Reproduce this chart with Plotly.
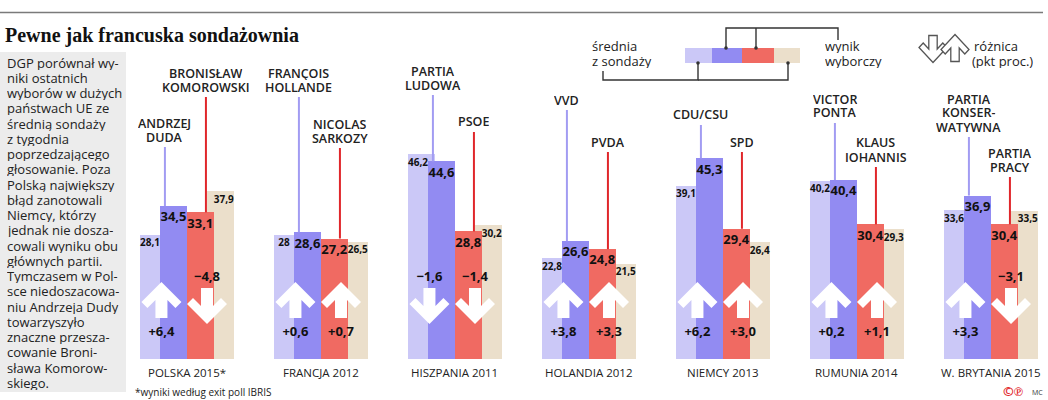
import plotly.graph_objects as go

# --- data -------------------------------------------------------------
countries = ["POLSKA 2015*", "FRANCJA 2012", "HISZPANIA 2011", "HOLANDIA 2012",
             "NIEMCY 2013", "RUMUNIA 2014", "W. BRYTANIA 2015"]
cand_a = ["ANDRZEJ<br>DUDA", "FRANÇOIS<br>HOLLANDE", "PARTIA<br>LUDOWA", "VVD",
          "CDU/CSU", "VICTOR<br>PONTA", "PARTIA<br>KONSER-<br>WATYWNA"]
cand_b = ["BRONISŁAW<br>KOMOROWSKI", "NICOLAS<br>SARKOZY", "PSOE", "PVDA",
          "SPD", "KLAUS<br>IOHANNIS", "PARTIA<br>PRACY"]
poll_a = [28.1, 28, 46.2, 22.8, 39.1, 40.2, 33.6]
result_a = [34.5, 28.6, 44.6, 26.6, 45.3, 40.4, 36.9]
result_b = [33.1, 27.2, 28.8, 24.8, 29.4, 30.4, 30.4]
poll_b = [37.9, 26.5, 30.2, 21.5, 26.4, 29.3, 33.5]
diff_a = [6.4, 0.6, -1.6, 3.8, 6.2, 0.2, 3.3]
diff_b = [-4.8, 0.7, -1.4, 3.3, 3.0, 1.1, -3.1]

# pixel heights where the name leader lines end (layout only)
label_top_a = [147, 97, 95, 110, 125, 123, 137]
label_top_b = [97, 148, 132, 152, 152, 167, 177]

intro = ["DGP porównał wy-", "niki ostatnich", "wyborów w dużych", "państwach UE ze",
         "średnią sondaży", "z tygodnia", "poprzedzającego", "głosowanie. Poza",
         "Polską największy", "błąd zanotowali", "Niemcy, którzy", "jednak nie dosza-",
         "cowali wyniku obu", "głównych partii.", "Tymczasem w Pol-", "sce niedoszacowa-",
         "niu Andrzeja Dudy", "towarzyszyło", "znaczne przesza-", "cowanie Broni-",
         "sława Komorow-", "skiego."]

# --- geometry ---------------------------------------------------------
W, H = 1048, 400
X0, U = 140, 26.8        # px of first group, px per x unit
BASE, K = 359, 4.43      # px of baseline, px per percentage point
STEP = 5                 # x units between groups

LIGHT, BLUE, RED, BEIGE = "#cbc8f7", "#928bf2", "#f06a62", "#ebdfcb"
FONT = "Open Sans"


def px(x):
    return x / W


def py(y):
    return 1 - y / H


def to_y(p):
    return (BASE - p) / K


def fmt(v, dec=True):
    s = f"{v:.1f}" if dec else f"{v:g}"
    return s.replace(".", ",")


def sdiff(v):
    return ("+" if v > 0 else "−") + fmt(abs(v))


starts = [STEP * i for i in range(len(countries))]

fig = go.Figure()


def bars(vals, off, width, color):
    fig.add_trace(go.Bar(x=[s + off for s in starts], y=vals, width=width,
                         marker=dict(color=color, line=dict(width=0)),
                         showlegend=False, hoverinfo="skip"))


bars(poll_a, 0.5, 1.0, LIGHT)
bars(poll_b, 3.0, 1.0, BEIGE)
bars(result_a, 1.25, 1.0, BLUE)
bars(result_b, 2.25, 1.0, RED)

# leader lines to candidate names
for vals, tops, off, col in [(result_a, label_top_a, 0.93, "#a29cf2"),
                             (result_b, label_top_b, 2.46, "#e0262a")]:
    xs, ys = [], []
    for s, v, t in zip(starts, vals, tops):
        xs += [s + off, s + off, None]
        ys += [v, to_y(t), None]
    fig.add_trace(go.Scatter(x=xs, y=ys, mode="lines", line=dict(color=col, width=2),
                             showlegend=False, hoverinfo="skip"))

# value labels
for vals, off, size, drop, dec in [(poll_a, 0.375, 10, 9, False), (poll_b, 3.125, 10, 9, False),
                                   (result_a, 1.25, 13, 12, True), (result_b, 2.25, 13, 12, True)]:
    fig.add_trace(go.Scatter(
        x=[s + off for s in starts], y=[v - drop / K for v in vals],
        mode="text", text=[fmt(v, dec) for v in vals],
        textfont=dict(family=FONT, size=size, color="#111", weight=700),
        cliponaxis=False, showlegend=False, hoverinfo="skip"))

# arrows
ARROW = [(0, 18), (20, -2), (14, -8), (6, 0), (6, -18), (-6, -18), (-6, 0),
         (-14, -8), (-20, -2), (0, 18)]


def arrow_pts(cx, cy, up, sx=1.0, sy=1.0):
    return [(cx + ax * sx, cy + (ay if up else -ay) * sy) for ax, ay in ARROW]


ax_, ay_ = [], []
for diffs, off in [(diff_a, 0.8), (diff_b, 2.5)]:
    tx, ty, tt = [], [], []
    for s, d in zip(starts, diffs):
        up = d > 0
        cy = to_y(300) if up else to_y(306)
        for x, y in arrow_pts(s + off, cy, up, 1 / U, 1 / K):
            ax_.append(x)
            ay_.append(y)
        ax_.append(None)
        ay_.append(None)
        tx.append(s + off)
        ty.append(to_y(333) if up else to_y(278))
        tt.append(sdiff(d))
    fig.add_trace(go.Scatter(x=tx, y=ty, mode="text", text=tt,
                             textfont=dict(family=FONT, size=13, color="#111", weight=700),
                             cliponaxis=False, showlegend=False, hoverinfo="skip"))
fig.add_trace(go.Scatter(x=ax_, y=ay_, mode="lines", fill="toself", fillcolor="white",
                         line=dict(width=0, color="white"), showlegend=False, hoverinfo="skip"))

annotations = []


def text(x, y, t, size=11, color="#222", weight=400, xanchor="left", family=FONT, height=None):
    ann = dict(x=x, y=y, xref="paper", yref="paper", text=t, showarrow=False,
               xanchor=xanchor, yanchor="middle",
               font=dict(family=family, size=size, color=color, weight=weight))
    if height:
        ann["height"] = height
    annotations.append(ann)


# candidate names, line by line above the leader lines
for names, tops, off in [(cand_a, label_top_a, 0.93), (cand_b, label_top_b, 2.46)]:
    for s, name, t in zip(starts, names, tops):
        lines = name.split("<br>")
        n = len(lines)
        for j, ln in enumerate(lines):
            ypx = t - 10 - 14 * (n - 1 - j)
            text(px(X0 + (s + off) * U), py(ypx), ln, size=12.5, weight=600,
                 xanchor="center", height=13)

# country names
for s, c in zip(starts, countries):
    text(px(X0 + (s + 1.75) * U), py(372), c, size=11.5, weight=500, xanchor="center")

# title and intro
text(px(3), py(35), "Pewne jak francuska sondażownia", size=20, color="#111", weight=700,
     family="Liberation Serif")
for i, ln in enumerate(intro):
    text(px(5), py(62 + 15.25 * i), ln, size=13, color="#222", height=15)

# legend texts
text(px(590), py(46), "średnia", size=13, height=14)
text(px(590), py(61), "z sondaży", size=13, height=14)
text(px(823), py(46), "wynik", size=13, height=14)
text(px(823), py(61), "wyborczy", size=13, height=14)
text(px(972), py(46), "różnica", size=13, height=14)
text(px(970), py(61), "(pkt proc.)", size=13, height=14)

# footnote and logo
text(px(133), py(392), "*wyniki według exit poll IBRIS", size=10, color="#222")
text(px(1001), py(391), "©℗", size=13, color="#e2262b", weight=700)
text(px(1030), py(392), "MC", size=7, color="#333")

shapes = []
# top rule
shapes.append(dict(type="line", xref="paper", yref="paper", x0=0, x1=px(1043),
                   y0=py(12.5), y1=py(12.5), line=dict(color="#7a7a7a", width=1.5)))
# intro box
shapes.append(dict(type="rect", xref="paper", yref="paper", x0=0, x1=px(126),
                   y0=py(392), y1=py(52), fillcolor="#ececec", line=dict(width=0),
                   layer="below"))
# legend swatches
for x0, x1, col in [(685, 712, LIGHT), (712, 742, BLUE), (742, 774, RED), (774, 800, BEIGE)]:
    shapes.append(dict(type="rect", xref="paper", yref="paper", x0=px(x0), x1=px(x1),
                       y0=py(63), y1=py(48), fillcolor=col, line=dict(width=0)))


def path(points):
    return "M " + " L ".join(f"{px(x):.5f},{py(y):.5f}" for x, y in points)


for pts in [[(726, 48), (726, 28), (838, 28), (838, 40)], [(756, 48), (756, 28)],
            [(698, 63), (698, 80), (603, 80), (603, 71)], [(788, 63), (788, 80), (698, 80)]]:
    shapes.append(dict(type="path", xref="paper", yref="paper", path=path(pts),
                       line=dict(color="#333", width=1.4)))
for x, y in [(726, 48), (756, 48), (698, 63), (788, 63)]:
    shapes.append(dict(type="circle", xref="paper", yref="paper", x0=px(x - 1.8), x1=px(x + 1.8),
                       y0=py(y + 1.8), y1=py(y - 1.8), fillcolor="#333", line=dict(width=0)))

# legend arrow icons (outlined)
for cx, cy, up in [(933, 49, False), (955, 48, True)]:
    pts = [(cx + x * 0.7, cy - (y if up else -y) * 0.75) for x, y in ARROW]
    shapes.append(dict(type="path", xref="paper", yref="paper", path=path(pts) + " Z",
                       fillcolor="white", line=dict(color="#555", width=1.3)))

fig.update_layout(
    width=W, height=H,
    margin=dict(l=0, r=0, t=0, b=0),
    plot_bgcolor="white", paper_bgcolor="white",
    barmode="overlay", bargap=0,
    xaxis=dict(range=[-X0 / U, (W - X0) / U], visible=False, fixedrange=True),
    yaxis=dict(range=[-(H - BASE) / K, BASE / K], visible=False, fixedrange=True),
    showlegend=False,
    annotations=annotations,
    shapes=shapes,
)

fig.write_html("out.html", config={"displayModeBar": False},
               post_script="document.body.style.margin='0';document.body.style.padding='0';")
